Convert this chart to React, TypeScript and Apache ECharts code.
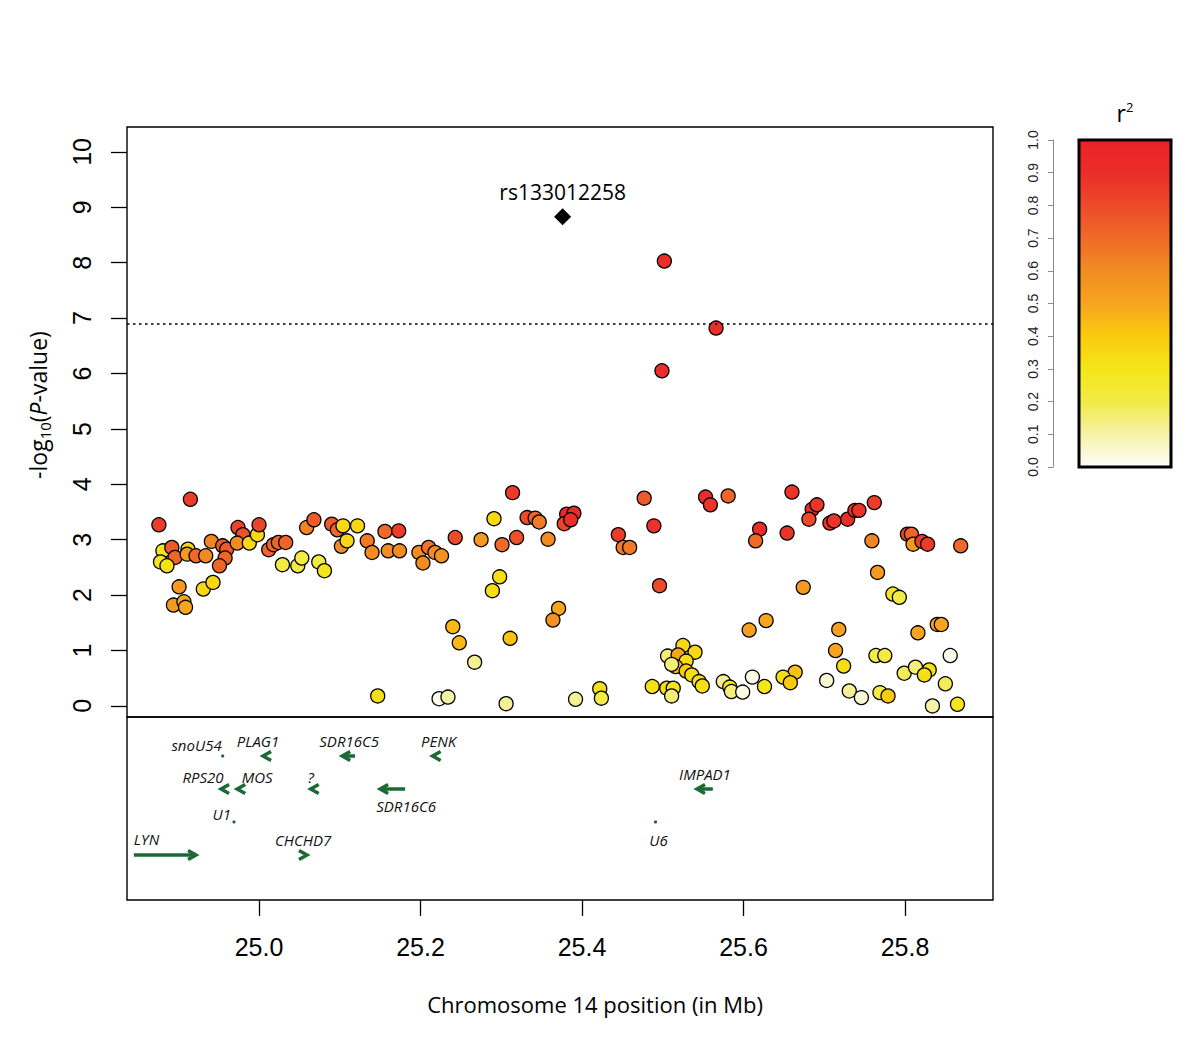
import React, { useEffect, useRef } from "react";
import * as echarts from "echarts";

// ---------------- DATA ----------------
// SNP positions (Mb), -log10(P) and r^2 with the lead SNP
const positionsMb = [
  24.915, 24.876, 24.881, 24.892, 24.896, 24.878, 24.886, 24.912, 24.911, 24.922,
  24.934, 24.901, 24.894, 24.907, 24.909, 24.931, 24.943, 24.941, 24.955, 24.96,
  24.958, 24.951, 24.974, 24.98, 24.973, 24.988, 24.998, 25.0, 25.012, 25.018,
  25.024, 25.033, 25.029, 25.048, 25.053, 25.074, 25.081, 25.059, 25.068, 25.09,
  25.097, 25.104, 25.102,
  25.122, 25.109, 25.134, 25.14, 25.156, 25.173, 25.16, 25.174, 25.198, 25.21,
  25.218, 25.226, 25.203, 25.243, 25.275, 25.291, 25.301, 25.319, 25.314, 25.332,
  25.342, 25.347, 25.358, 25.298, 25.289, 25.371, 25.364, 25.24, 25.248, 25.311,
  25.267, 25.147, 25.223, 25.234, 25.306,
  25.381, 25.39, 25.378, 25.386, 25.477, 25.445, 25.489, 25.451, 25.459, 25.553,
  25.559, 25.581, 25.62, 25.615, 25.496, 25.607, 25.628, 25.525, 25.54, 25.506,
  25.519, 25.529, 25.516, 25.511, 25.529, 25.536, 25.545, 25.549, 25.487, 25.505,
  25.513, 25.511, 25.422, 25.424, 25.392, 25.575, 25.583, 25.585, 25.599, 25.611,
  25.626,
  25.66, 25.654, 25.685, 25.691, 25.681, 25.707, 25.712, 25.729, 25.738, 25.743,
  25.762, 25.759, 25.803, 25.808, 25.81, 25.821, 25.828, 25.869, 25.766, 25.674,
  25.785, 25.793, 25.718, 25.816, 25.84, 25.845, 25.714, 25.724, 25.764, 25.775,
  25.856, 25.664, 25.649, 25.658, 25.703, 25.799, 25.813, 25.83, 25.824, 25.85,
  25.731, 25.746, 25.769, 25.779, 25.834, 25.865,
  25.502, 25.499, 25.566,
];

const logP = [
  3.73, 3.27, 2.8, 2.86, 2.68, 2.6, 2.53, 2.83, 2.74, 2.71,
  2.71, 2.15, 1.82, 1.88, 1.78, 2.11, 2.23, 2.97, 2.89, 2.83,
  2.67, 2.53, 3.22, 3.09, 2.94, 2.94, 3.09, 3.27, 2.82, 2.91,
  2.95, 2.95, 2.55, 2.53, 2.67, 2.6, 2.44, 3.22, 3.36, 3.28,
  3.18, 3.25, 2.88,
  3.25, 2.98, 2.98, 2.77, 3.15, 3.16, 2.8, 2.8, 2.77, 2.86,
  2.77, 2.71, 2.58, 3.04, 3.0, 3.38, 2.91, 3.04, 3.85, 3.4,
  3.39, 3.32, 3.01, 2.33, 2.08, 1.76, 1.55, 1.43, 1.14, 1.22,
  0.79, 0.18, 0.13, 0.16, 0.04,
  3.46, 3.48, 3.29, 3.36, 3.75, 3.09, 3.25, 2.86, 2.86, 3.77,
  3.63, 3.79, 3.19, 2.98, 2.17, 1.37, 1.54, 1.09, 0.97, 0.9,
  0.92, 0.81, 0.71, 0.75, 0.63, 0.56, 0.44, 0.36, 0.35, 0.32,
  0.32, 0.18, 0.31, 0.14, 0.12, 0.44, 0.34, 0.26, 0.25, 0.52,
  0.35,
  3.86, 3.12, 3.55, 3.63, 3.37, 3.3, 3.34, 3.37, 3.53, 3.53,
  3.67, 2.98, 3.1, 3.1, 2.92, 2.97, 2.92, 2.89, 2.41, 2.14,
  2.02, 1.96, 1.38, 1.32, 1.47, 1.47, 1.0, 0.72, 0.91, 0.91,
  0.91, 0.61, 0.52, 0.42, 0.46, 0.59, 0.7, 0.65, 0.56, 0.4,
  0.27, 0.15, 0.24, 0.18, 0.0, 0.03,
  8.03, 6.05, 6.82,
];

const r2 = [
  0.85, 0.85, 0.3, 0.75, 0.72, 0.3, 0.32, 0.35, 0.55, 0.7,
  0.6, 0.55, 0.55, 0.5, 0.5, 0.35, 0.35, 0.62, 0.75, 0.75,
  0.72, 0.72, 0.82, 0.78, 0.6, 0.35, 0.35, 0.82, 0.72, 0.72,
  0.72, 0.72, 0.2, 0.2, 0.2, 0.2, 0.3, 0.62, 0.75, 0.75,
  0.72, 0.35, 0.6,
  0.35, 0.35, 0.65, 0.6, 0.7, 0.85, 0.6, 0.6, 0.6, 0.68,
  0.6, 0.58, 0.6, 0.8, 0.55, 0.35, 0.7, 0.78, 0.85, 0.8,
  0.72, 0.65, 0.6, 0.33, 0.32, 0.5, 0.58, 0.45, 0.45, 0.42,
  0.12, 0.33, 0.02, 0.1, 0.12,
  0.92, 0.92, 0.82, 0.9, 0.75, 0.85, 0.88, 0.65, 0.65, 0.9,
  0.88, 0.72, 0.9, 0.7, 0.8, 0.52, 0.5, 0.35, 0.35, 0.15,
  0.5, 0.33, 0.42, 0.15, 0.4, 0.33, 0.32, 0.32, 0.32, 0.32,
  0.3, 0.15, 0.32, 0.2, 0.12, 0.12, 0.3, 0.15, 0.03, 0.03,
  0.3,
  0.88, 0.88, 0.9, 0.88, 0.8, 0.88, 0.88, 0.9, 0.88, 0.88,
  0.85, 0.62, 0.82, 0.72, 0.55, 0.85, 0.85, 0.7, 0.55, 0.55,
  0.3, 0.2, 0.52, 0.5, 0.5, 0.5, 0.5, 0.33, 0.2, 0.2,
  0.02, 0.42, 0.33, 0.4, 0.05, 0.18, 0.15, 0.32, 0.32, 0.18,
  0.12, 0.05, 0.2, 0.4, 0.1, 0.3,
  0.9, 0.9, 0.9,
];

const leadSnpName = "rs133012258";
const leadSnpPos = 25.376;
const leadSnpLogP = 8.83;
const significanceLine = 6.9;

const xTicks = [25.0, 25.2, 25.4, 25.6, 25.8];
const yTicks = [0, 1, 2, 3, 4, 5, 6, 7, 8, 9, 10];
const r2Ticks = [0, 0.1, 0.2, 0.3, 0.4, 0.5, 0.6, 0.7, 0.8, 0.9, 1.0];

// Genes: drawn extent (Mb), strand, track row
const geneNames = ["LYN", "snoU54", "PLAG1", "SDR16C5", "PENK", "RPS20", "MOS", "?", "SDR16C6", "U1", "CHCHD7", "IMPAD1", "U6"];
const geneStart = [24.845, 24.955, 25.005, 25.103, 25.215, 24.953, 24.973, 25.064, 25.15, 24.969, 25.057, 25.5424, 25.491];
const geneEnd = [24.922, 24.955, 25.007, 25.119, 25.217, 24.955, 24.975, 25.066, 25.181, 24.969, 25.0594, 25.562, 25.491];
const geneStrand = [1, 0, -1, -1, -1, -1, -1, -1, -1, 0, 1, -1, 0];
const geneRow = [4, 1, 1, 1, 1, 2, 2, 2, 2, 3, 4, 2, 3];

// ---------------- STYLE / LAYOUT ----------------
const X_MIN = 24.8365;
const X_MAX = 25.909;
const GREEN = "#1b6a36";
const r2Colors = ["#fefefc", "#f5f2a8", "#f2ea45", "#f4e61a", "#fbca0e", "#f7a51e", "#f28c22", "#ef6a28", "#ec4a2b", "#ea2d28", "#e92227"];
// label offsets (px) relative to gene start: [dx, dy, align]
const labelLayout: Record<string, [number, number, string]> = {
  LYN: [0, -16, "left"],
  snoU54: [-1, -11, "right"],
  PLAG1: [-5, -15, "center"],
  SDR16C5: [7, -15, "center"],
  PENK: [6, -15, "center"],
  RPS20: [-18, -12, "center"],
  MOS: [20, -12, "center"],
  "?": [0, -12, "center"],
  SDR16C6: [26, 17, "center"],
  U1: [-3, -8, "right"],
  CHCHD7: [-2, -15, "center"],
  IMPAD1: [8, -15, "center"],
  U6: [3, 18, "center"],
};

const TICK_FONT = "Liberation Sans";
const TEXT_FONT = "Open Sans";

function buildOption() {
  const points = positionsMb.map((x, i) => [x, logP[i], r2[i]]);
  const genes = geneNames.map((_, i) => [geneStart[i], geneRow[i], i]);

  return {
    animation: false,
    backgroundColor: "#fff",
    grid: [
      { left: 127, top: 127, width: 866, height: 590, show: true, borderColor: "#000", borderWidth: 1.4, backgroundColor: "transparent" },
      { left: 127, top: 717, width: 866, height: 183, show: true, borderColor: "#000", borderWidth: 1.4, backgroundColor: "transparent" },
      { left: 1079, top: 140, width: 92, height: 327, show: false },
    ],
    xAxis: [
      { type: "value", gridIndex: 0, min: X_MIN, max: X_MAX, show: false },
      {
        type: "value", gridIndex: 1, min: X_MIN, max: X_MAX, position: "bottom",
        axisLine: { show: false, onZero: false },
        splitLine: { show: false },
        axisTick: { show: true, customValues: xTicks, length: 16, lineStyle: { color: "#000", width: 1.3 } },
        axisLabel: {
          show: true, customValues: xTicks, margin: 34, fontSize: 25, fontFamily: TICK_FONT, color: "#000",
          formatter: (v: number) => v.toFixed(1),
        },
      },
      { type: "value", gridIndex: 2, min: 0, max: 1, show: false },
    ],
    yAxis: [
      {
        type: "value", gridIndex: 0, min: -0.2, max: 10.45,
        axisLine: { show: false, onZero: false },
        splitLine: { show: false },
        axisTick: { show: true, customValues: yTicks, length: 16, lineStyle: { color: "#000", width: 1.3 } },
        axisLabel: {
          show: true, customValues: yTicks, rotate: 90, margin: 33, fontSize: 25, fontFamily: TICK_FONT, color: "#000",
        },
      },
      { type: "value", gridIndex: 1, min: -0.1818, max: 5.3636, inverse: true, show: false },
      {
        type: "value", gridIndex: 2, min: 0, max: 1, position: "left", offset: 26,
        axisLine: { show: true, onZero: false, lineStyle: { color: "#8a8a8a", width: 1 } },
        splitLine: { show: false },
        axisTick: { show: true, customValues: r2Ticks, length: 5, lineStyle: { color: "#8a8a8a", width: 1 } },
        axisLabel: {
          show: true, customValues: r2Ticks, rotate: 90, margin: 13, fontSize: 14, fontFamily: TICK_FONT, color: "#222",
          formatter: (v: number) => v.toFixed(1),
        },
      },
    ],
    visualMap: [
      { type: "continuous", show: false, min: 0, max: 1, dimension: 2, seriesIndex: 0, inRange: { color: r2Colors } },
    ],
    series: [
      {
        type: "scatter", xAxisIndex: 0, yAxisIndex: 0, data: points,
        symbol: "circle", symbolSize: 14,
        itemStyle: { borderColor: "#000", borderWidth: 1.3, opacity: 1 },
        markLine: {
          silent: true, symbol: "none", animation: false,
          label: { show: false },
          lineStyle: { color: "#000", width: 1.5, type: [2.5, 3.5], opacity: 1 },
          data: [{ yAxis: significanceLine }],
        },
        z: 3,
      },
      {
        type: "scatter", xAxisIndex: 0, yAxisIndex: 0,
        data: [{ value: [leadSnpPos, leadSnpLogP], name: leadSnpName }],
        symbol: "diamond", symbolSize: 17,
        itemStyle: { color: "#000", opacity: 1 },
        label: {
          show: true, position: "top", distance: 6, formatter: leadSnpName,
          fontSize: 21, fontFamily: TEXT_FONT, color: "#000", opacity: 1,
        },
        z: 4,
      },
      {
        type: "custom", xAxisIndex: 1, yAxisIndex: 1, data: genes, clip: false,
        encode: { x: 0, y: 1 },
        renderItem: (_params: any, api: any) => {
          const i = api.value(2) as number;
          const name = geneNames[i];
          const strand = geneStrand[i];
          const p0 = api.coord([geneStart[i], geneRow[i]]);
          const p1 = api.coord([geneEnd[i], geneRow[i]]);
          const y = p0[1];
          const children: any[] = [];
          if (strand === 0) {
            children.push({ type: "circle", shape: { cx: p0[0], cy: y, r: 1.6 }, style: { fill: GREEN } });
          } else {
            const tip = strand > 0 ? p1[0] : p0[0];
            const tail = strand > 0 ? p0[0] : p1[0];
            const H = 8, W = 4.5;
            if (Math.abs(tail - tip) > 3) {
              children.push({
                type: "line", shape: { x1: tail, y1: y, x2: tip - strand * 2, y2: y },
                style: { stroke: GREEN, lineWidth: 3.5, lineCap: "butt" },
              });
            }
            children.push({
              type: "polyline",
              shape: { points: [[tip - strand * H, y - W], [tip, y], [tip - strand * H, y + W]] },
              style: { stroke: GREEN, fill: "none", lineWidth: 3.5, lineJoin: "miter", lineCap: "butt" },
            });
          }
          const lay = labelLayout[name];
          children.push({
            type: "text",
            style: {
              text: name, x: p0[0] + lay[0], y: y + lay[1],
              align: lay[2], verticalAlign: "middle",
              fontSize: 15, fontStyle: "italic", fontFamily: TEXT_FONT, fill: "#111",
            },
          });
          return { type: "group", children };
        },
        z: 3,
      },
    ],
    graphic: [
      {
        type: "rect", z: 10,
        shape: { x: 1079, y: 140, width: 92, height: 327 },
        style: {
          fill: {
            type: "linear", x: 0, y: 0, x2: 0, y2: 1,
            colorStops: r2Colors.slice().reverse().map((c, k) => ({ offset: k / (r2Colors.length - 1), color: c })),
          },
          stroke: "#000", lineWidth: 3,
        },
      },
      {
        type: "text", z: 10, x: 1125, y: 113,
        style: {
          text: "r{sup|2}", align: "center", verticalAlign: "middle",
          fontSize: 23, fontFamily: TEXT_FONT, fill: "#000", lineHeight: 26,
          rich: { sup: { fontSize: 13, fontFamily: TEXT_FONT, verticalAlign: "top", lineHeight: 14 } },
        },
      },
      {
        type: "text", z: 10, x: 38, y: 405, rotation: Math.PI / 2,
        style: {
          text: "-log{sub|10}({it|P}-value)", align: "center", verticalAlign: "middle",
          fontSize: 23, fontFamily: TEXT_FONT, fill: "#000", lineHeight: 28,
          rich: {
            sub: { fontSize: 15, fontFamily: TEXT_FONT, verticalAlign: "bottom", lineHeight: 17 },
            it: { fontSize: 23, fontStyle: "italic", fontFamily: TEXT_FONT, lineHeight: 28 },
          },
        },
      },
      {
        type: "text", z: 10, x: 595, y: 1004,
        style: {
          text: "Chromosome 14 position (in Mb)", align: "center", verticalAlign: "middle",
          fontSize: 22, fontFamily: TEXT_FONT, fill: "#000",
        },
      },
    ],
  };
}

export default function App() {
  const ref = useRef<HTMLDivElement>(null);
  useEffect(() => {
    if (!ref.current) return;
    const chart = echarts.init(ref.current, null, { renderer: "svg" });
    chart.setOption(buildOption() as any);
    return () => chart.dispose();
  }, []);
  return (
    <div
      ref={ref}
      style={{ position: "absolute", left: 0, top: 0, width: 1200, height: 1059, background: "#fff" }}
    />
  );
}
